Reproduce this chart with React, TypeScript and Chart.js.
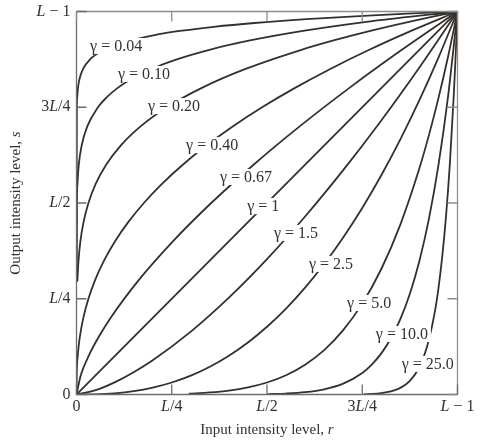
import React, { useEffect, useRef } from 'react';
import { Chart, registerables } from 'chart.js';

Chart.register(...registerables);

// gamma values (curve names)
const gammaNames = ['0.04', '0.10', '0.20', '0.40', '0.67', '1', '1.5', '2.5', '5.0', '10.0', '25.0'];

// curves as [r, s] pairs, r and s normalised to 0..1 (0 .. L-1)
const curve004 = [[0, 0.295], [0.00089, 0.755], [0.0017, 0.775], [0.0038, 0.8], [0.0082, 0.825], [0.0172, 0.85], [0.0355, 0.875], [0.0718, 0.9], [0.1244, 0.92], [0.2129, 0.94], [0.2774, 0.95], [0.3604, 0.96], [0.4669, 0.97], [0.6035, 0.98], [0.7778, 0.99], [0.8822, 0.995], [1, 1]];
const curve010 = [[0, 0.295], [0.00098, 0.5], [0.0025, 0.55], [0.006, 0.6], [0.0135, 0.65], [0.0283, 0.7], [0.0563, 0.75], [0.0782, 0.775], [0.1074, 0.8], [0.1461, 0.825], [0.1969, 0.85], [0.2631, 0.875], [0.3487, 0.9], [0.4586, 0.925], [0.5987, 0.95], [0.7763, 0.975], [1, 1]];
const curve020 = [[0.0022, 0.295], [0.0053, 0.35], [0.0102, 0.4], [0.0185, 0.45], [0.0313, 0.5], [0.0503, 0.55], [0.0778, 0.6], [0.116, 0.65], [0.1681, 0.7], [0.2373, 0.75], [0.3277, 0.8], [0.4437, 0.85], [0.5905, 0.9], [0.6772, 0.925], [0.7738, 0.95], [0.8811, 0.975], [1, 1]];
const curve040 = [[0, 0], [0.00056, 0.05], [0.0032, 0.1], [0.0087, 0.15], [0.0179, 0.2], [0.0313, 0.25], [0.0493, 0.3], [0.0725, 0.35], [0.1012, 0.4], [0.1358, 0.45], [0.1768, 0.5], [0.2243, 0.55], [0.2789, 0.6], [0.3406, 0.65], [0.41, 0.7], [0.4871, 0.75], [0.5724, 0.8], [0.6661, 0.85], [0.7684, 0.9], [0.8797, 0.95], [1, 1]];
const curve067 = [[0, 0], [0.0112, 0.05], [0.0316, 0.1], [0.0581, 0.15], [0.0894, 0.2], [0.1643, 0.3], [0.253, 0.4], [0.3536, 0.5], [0.4648, 0.6], [0.5857, 0.7], [0.7155, 0.8], [0.8538, 0.9], [1, 1]];
const curve1 = [[0, 0], [1, 1]];
const curve15 = [[0, 0], [0.05, 0.0112], [0.1, 0.0316], [0.15, 0.0581], [0.2, 0.0894], [0.3, 0.1643], [0.4, 0.253], [0.5, 0.3536], [0.6, 0.4648], [0.7, 0.5857], [0.8, 0.7155], [0.9, 0.8538], [1, 1]];
const curve25 = [[0, 0], [0.05, 0.00056], [0.1, 0.0032], [0.15, 0.0087], [0.2, 0.0179], [0.25, 0.0313], [0.3, 0.0493], [0.35, 0.0725], [0.4, 0.1012], [0.45, 0.1358], [0.5, 0.1768], [0.55, 0.2243], [0.6, 0.2789], [0.65, 0.3406], [0.7, 0.41], [0.75, 0.4871], [0.8, 0.5724], [0.85, 0.6661], [0.9, 0.7684], [0.95, 0.8797], [1, 1]];
const curve50 = [[0.295, 0.0022], [0.35, 0.0053], [0.4, 0.0102], [0.45, 0.0185], [0.5, 0.0313], [0.55, 0.0503], [0.6, 0.0778], [0.65, 0.116], [0.7, 0.1681], [0.75, 0.2373], [0.8, 0.3277], [0.85, 0.4437], [0.9, 0.5905], [0.925, 0.6772], [0.95, 0.7738], [0.975, 0.8811], [1, 1]];
const curve100 = [[0.503, 0.001], [0.55, 0.0025], [0.6, 0.006], [0.65, 0.0135], [0.7, 0.0283], [0.75, 0.0563], [0.775, 0.0782], [0.8, 0.1074], [0.825, 0.1461], [0.85, 0.1969], [0.875, 0.2631], [0.9, 0.3487], [0.925, 0.4586], [0.95, 0.5987], [0.975, 0.7763], [1, 1]];
const curve250 = [[0.755, 0.00089], [0.775, 0.0017], [0.8, 0.0038], [0.825, 0.0082], [0.85, 0.0172], [0.875, 0.0355], [0.9, 0.0718], [0.92, 0.1244], [0.94, 0.2129], [0.95, 0.2774], [0.96, 0.3604], [0.97, 0.4669], [0.98, 0.6035], [0.99, 0.7778], [0.995, 0.8822], [1, 1]];

const curves = [curve004, curve010, curve020, curve040, curve067, curve1, curve15, curve25, curve50, curve100, curve250];

// where each gamma label sits, in data units (r, s)
const labelR = [0.104, 0.177, 0.256, 0.356, 0.445, 0.49, 0.576, 0.668, 0.768, 0.854, 0.922];
const labelS = [0.91, 0.837, 0.753, 0.651, 0.568, 0.492, 0.422, 0.341, 0.239, 0.158, 0.08];

const tickValues = [0, 0.25, 0.5, 0.75, 1];
const tickLabels = ['0', 'L/4', 'L/2', '3L/4', 'L \u2212 1'];
const xTitle = 'Input intensity level, r';
const yTitle = 'Output intensity level, s';

const CURVE = '#35302c';
const FRAME_DARK = '#6f6b67';
const FRAME_LIGHT = '#908c89';
const TEXT = '#35302d';
const FAMILY = '"Liberation Serif", "DejaVu Serif", serif';

type Seg = [string, boolean];

function splitItalic(label: string, italicChars: string): Seg[] {
  const out: Seg[] = [];
  for (const ch of label) {
    const it = italicChars.includes(ch);
    if (out.length && out[out.length - 1][1] === it) out[out.length - 1][0] += ch;
    else out.push([ch, it]);
  }
  return out;
}

function drawSegs(ctx: CanvasRenderingContext2D, segs: Seg[], x: number, y: number, size: number, align: 'center' | 'right') {
  const fonts = segs.map(([, it]) => `${it ? 'italic ' : ''}${size}px ${FAMILY}`);
  const widths = segs.map(([t], i) => {
    ctx.font = fonts[i];
    return ctx.measureText(t).width;
  });
  const total = widths.reduce((a, b) => a + b, 0);
  let start = align === 'center' ? x - total / 2 : x - total;
  ctx.textAlign = 'left';
  ctx.textBaseline = 'middle';
  segs.forEach(([t], i) => {
    ctx.font = fonts[i];
    ctx.fillText(t, start, y);
    start += widths[i];
  });
  return total;
}

const decorPlugin = {
  id: 'gammaDecor',
  afterDraw(chart: any) {
    const ctx: CanvasRenderingContext2D = chart.ctx;
    const { left, right, top, bottom } = chart.chartArea;
    const xs = chart.scales.x;
    const ys = chart.scales.y;
    ctx.save();

    // gamma labels with white backing that interrupts the curve
    gammaNames.forEach((g, i) => {
      const text = `\u03b3 = ${g}`;
      const px = xs.getPixelForValue(labelR[i]);
      const py = ys.getPixelForValue(labelS[i]);
      ctx.font = `16px ${FAMILY}`;
      const w = ctx.measureText(text).width;
      ctx.fillStyle = '#ffffff';
      ctx.fillRect(px - w / 2 - 3, py - 8, w + 6, 16);
      ctx.fillStyle = TEXT;
      ctx.textAlign = 'center';
      ctx.textBaseline = 'middle';
      ctx.fillText(text, px, py + 1);
    });

    // frame: top/right lighter, left/bottom darker
    ctx.lineWidth = 1.3;
    ctx.strokeStyle = FRAME_LIGHT;
    ctx.beginPath();
    ctx.moveTo(left, top);
    ctx.lineTo(right, top);
    ctx.lineTo(right, bottom);
    ctx.stroke();
    ctx.strokeStyle = FRAME_DARK;
    ctx.beginPath();
    ctx.moveTo(left, top);
    ctx.lineTo(left, bottom);
    ctx.lineTo(right, bottom);
    ctx.stroke();

    // inward tick marks on all four sides
    const tl = 10;
    ctx.strokeStyle = FRAME_LIGHT;
    ctx.beginPath();
    tickValues.forEach((v) => {
      const px = xs.getPixelForValue(v);
      const py = ys.getPixelForValue(v);
      ctx.moveTo(px, top);
      ctx.lineTo(px, top + tl);
      ctx.moveTo(right, py);
      ctx.lineTo(right - tl, py);
    });
    ctx.stroke();
    ctx.strokeStyle = FRAME_DARK;
    ctx.beginPath();
    tickValues.forEach((v) => {
      const px = xs.getPixelForValue(v);
      const py = ys.getPixelForValue(v);
      ctx.moveTo(px, bottom);
      ctx.lineTo(px, bottom - tl);
      ctx.moveTo(left, py);
      ctx.lineTo(left + tl, py);
    });
    ctx.stroke();

    // tick labels
    ctx.fillStyle = TEXT;
    tickValues.forEach((v, i) => {
      drawSegs(ctx, splitItalic(tickLabels[i], 'L'), left - 6, ys.getPixelForValue(v), 16, 'right');
      drawSegs(ctx, splitItalic(tickLabels[i], 'L'), xs.getPixelForValue(v), bottom + 12, 16, 'center');
    });

    // axis titles
    const xt: Seg[] = [[xTitle.slice(0, -1), false], [xTitle.slice(-1), true]];
    drawSegs(ctx, xt, (left + right) / 2, bottom + 36, 15, 'center');
    ctx.save();
    ctx.translate(16, (top + bottom) / 2);
    ctx.rotate(-Math.PI / 2);
    const yt: Seg[] = [[yTitle.slice(0, -1), false], [yTitle.slice(-1), true]];
    drawSegs(ctx, yt, 0, 0, 15, 'center');
    ctx.restore();

    ctx.restore();
  },
};

export default function App() {
  const canvasRef = useRef<HTMLCanvasElement | null>(null);

  useEffect(() => {
    if (!canvasRef.current) return;
    const chart = new Chart(canvasRef.current, {
      type: 'scatter',
      data: {
        datasets: curves.map((c, i) => ({
          label: `\u03b3 = ${gammaNames[i]}`,
          data: c.map(([r, s]) => ({ x: r, y: s })),
          showLine: true,
          borderColor: CURVE,
          backgroundColor: CURVE,
          borderWidth: 1.8,
          pointRadius: 0,
          pointHoverRadius: 0,
          cubicInterpolationMode: 'monotone' as const,
        })),
      },
      options: {
        responsive: false,
        animation: false,
        events: [],
        layout: { padding: { left: 76.5, right: 33.5, top: 11.5, bottom: 48.5 } },
        plugins: { legend: { display: false }, tooltip: { enabled: false }, title: { display: false } },
        scales: {
          x: {
            type: 'linear',
            display: false,
            min: 0,
            max: 1,
          },
          y: {
            type: 'linear',
            display: false,
            min: 0,
            max: 1,
          },
        },
      },
      plugins: [decorPlugin],
    });
    return () => chart.destroy();
  }, []);

  return (
    <div style={{ position: 'fixed', left: 0, top: 0, width: 491, height: 443, background: '#fff' }}>
      <canvas ref={canvasRef} width={491} height={443} style={{ display: 'block' }} />
    </div>
  );
}
